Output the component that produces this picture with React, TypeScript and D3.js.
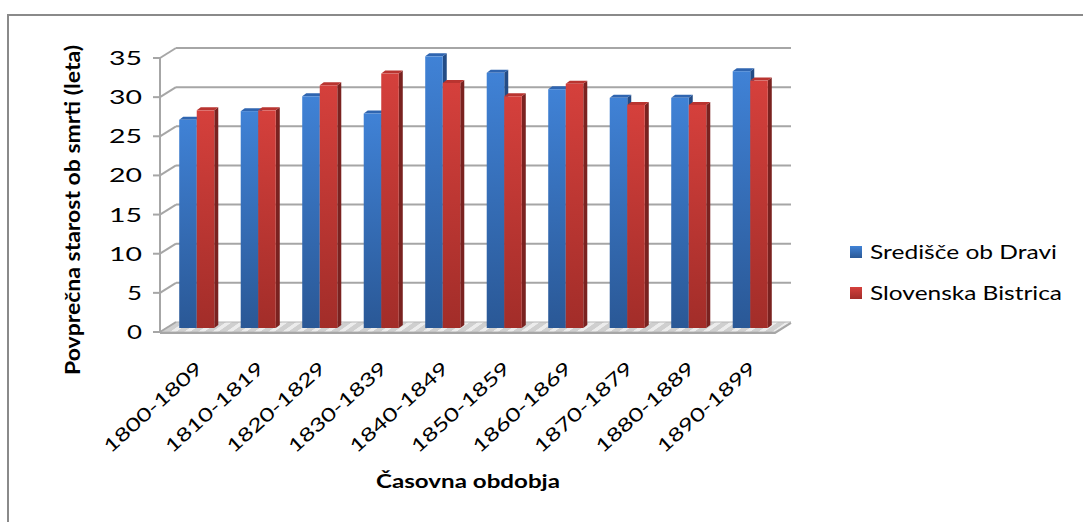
import React from 'react';
import * as d3 from 'd3';

const categories = ['1800-1809', '1810-1819', '1820-1829', '1830-1839', '1840-1849', '1850-1859', '1860-1869', '1870-1879', '1880-1889', '1890-1899'];
const seriesNames = ['Središče ob Dravi', 'Slovenska Bistrica'];
const sredisce = [26.6, 27.7, 29.6, 27.4, 34.7, 32.6, 30.5, 29.4, 29.4, 32.8];
const bistrica = [27.8, 27.8, 31.0, 32.5, 31.3, 29.6, 31.2, 28.5, 28.5, 31.6];
const yTicks = [0, 5, 10, 15, 20, 25, 30, 35];
const yTitle = 'Povprečna starost ob smrti (leta)';
const xTitle = 'Časovna obdobja';

const W = 1083;
const H = 522;
const left = 160;
const right = 775;
const DX = 16;
const DY = -10;
const BOX = 6;
const BOY = -4;
const BDX = 4;
const BDY = -3;
const FONT = 'Lato, "Open Sans", sans-serif';

const faces = [
  { top: '#4082d6', bottom: '#2a5896', side: '#234c86', cap: '#2f65b0' },
  { top: '#d5403c', bottom: '#a22d29', side: '#7a2220', cap: '#b93430' },
];

export default function App() {
  const x0 = d3.scaleBand<string>().domain(categories).range([left, right]);
  const bw = x0.bandwidth();
  const groupW = bw * 0.57;
  const x1 = d3.scaleBand<string>().domain(seriesNames).range([0, groupW]);
  const y = d3.scaleLinear().domain([0, 35]).range([332, 58]);
  const data = [sredisce, bistrica];

  const floor = [
    [left, y(0)],
    [right, y(0)],
    [right + DX, y(0) + DY],
    [left + DX, y(0) + DY],
  ];
  const line = d3.line();

  return (
    <svg width={W} height={H} style={{ position: 'absolute', left: 0, top: 0, background: '#fff' }}>
      <defs>
        {faces.map((f, i) => (
          <linearGradient key={i} id={`g${i}`} x1="0" y1="0" x2="0" y2="1">
            <stop offset="0" stopColor={f.top} />
            <stop offset="1" stopColor={f.bottom} />
          </linearGradient>
        ))}
        <pattern id="hatch" width="14" height="10" patternUnits="userSpaceOnUse" patternTransform="skewX(-55)">
          <rect width="14" height="10" fill="#cfcfcf" />
          <rect width="6" height="10" fill="#ececec" />
        </pattern>
      </defs>
      <rect x={8} y={15} width={1200} height={700} fill="#fff" stroke="#8a8a8a" strokeWidth={2} />

      {/* floor */}
      <path d={line(floor as [number, number][]) + 'Z'} fill="url(#hatch)" stroke="#b5b5b5" strokeWidth={1} />
      <path d={line([[left, y(0) + 1], [right, y(0) + 1], [right + DX, y(0) + DY + 1]] as [number, number][]) || ''} fill="none" stroke="#a6a6a6" strokeWidth={2} />

      {/* grid */}
      {yTicks.map((t) => (
        <g key={t}>
          {t > 0 && (
            <line x1={left + DX} x2={right + DX} y1={y(t) + DY} y2={y(t) + DY} stroke="#a6a6a6" strokeWidth={2} />
          )}
          <line x1={left} x2={left + DX} y1={y(t)} y2={y(t) + DY} stroke="#a6a6a6" strokeWidth={2} />
          <line x1={left - 7} x2={left} y1={y(t)} y2={y(t)} stroke="#a6a6a6" strokeWidth={2} />
          <text x={142} y={y(t) + 7} textAnchor="end" fontFamily={FONT} fontSize={18.5} fill="#000"
            textLength={t >= 10 ? 33 : 15} lengthAdjust="spacingAndGlyphs">{t}</text>
        </g>
      ))}
      <line x1={left} x2={left} y1={y(35)} y2={y(0) + 1} stroke="#a6a6a6" strokeWidth={2} />

      {/* bars */}
      {categories.map((c, ci) => (
        <g key={c}>
          {seriesNames.map((s, si) => {
            const v = data[si][ci];
            const bx = (x0(c) as number) + (bw - groupW) / 2 + (x1(s) as number) + BOX;
            const w = x1.bandwidth();
            const top = y(v) + BOY;
            const bot = y(0) + BOY;
            const f = faces[si];
            return (
              <g key={s}>
                <path d={`M${bx + w},${top}L${bx + w + BDX},${top + BDY}L${bx + w + BDX},${bot + BDY}L${bx + w},${bot}Z`} fill={f.side} />
                <path d={`M${bx},${top}L${bx + BDX},${top + BDY}L${bx + w + BDX},${top + BDY}L${bx + w},${top}Z`} fill={f.cap} />
                <rect x={bx} y={top} width={w} height={bot - top} fill={`url(#g${si})`} />
              </g>
            );
          })}
        </g>
      ))}

      {/* x labels */}
      {categories.map((c) => {
        const cx = (x0(c) as number) + bw / 2 + 13;
        return (
          <text key={c} transform={`translate(${cx},${370}) rotate(-42)`} textAnchor="end" fontFamily={FONT}
            fontSize={18.5} textLength={125} lengthAdjust="spacingAndGlyphs">{c}</text>
        );
      })}

      {/* axis titles */}
      <text transform={`translate(80,210) scale(1.25,1) rotate(-90)`} textAnchor="middle" fontFamily={FONT}
        fontSize={16} fontWeight="bold" textLength={330} lengthAdjust="spacingAndGlyphs">{yTitle}</text>
      <text x={468} y={488} textAnchor="middle" fontFamily={FONT} fontSize={19} fontWeight="bold"
        textLength={184} lengthAdjust="spacingAndGlyphs">{xTitle}</text>

      {/* legend */}
      {seriesNames.map((s, i) => (
        <g key={s}>
          <rect x={850} y={246 + i * 41} width={12} height={12} fill={`url(#g${i})`} />
          <text x={870} y={259 + i * 41} fontFamily={FONT} fontSize={19}
            textLength={i === 0 ? 187 : 192} lengthAdjust="spacingAndGlyphs">{s}</text>
        </g>
      ))}
    </svg>
  );
}
